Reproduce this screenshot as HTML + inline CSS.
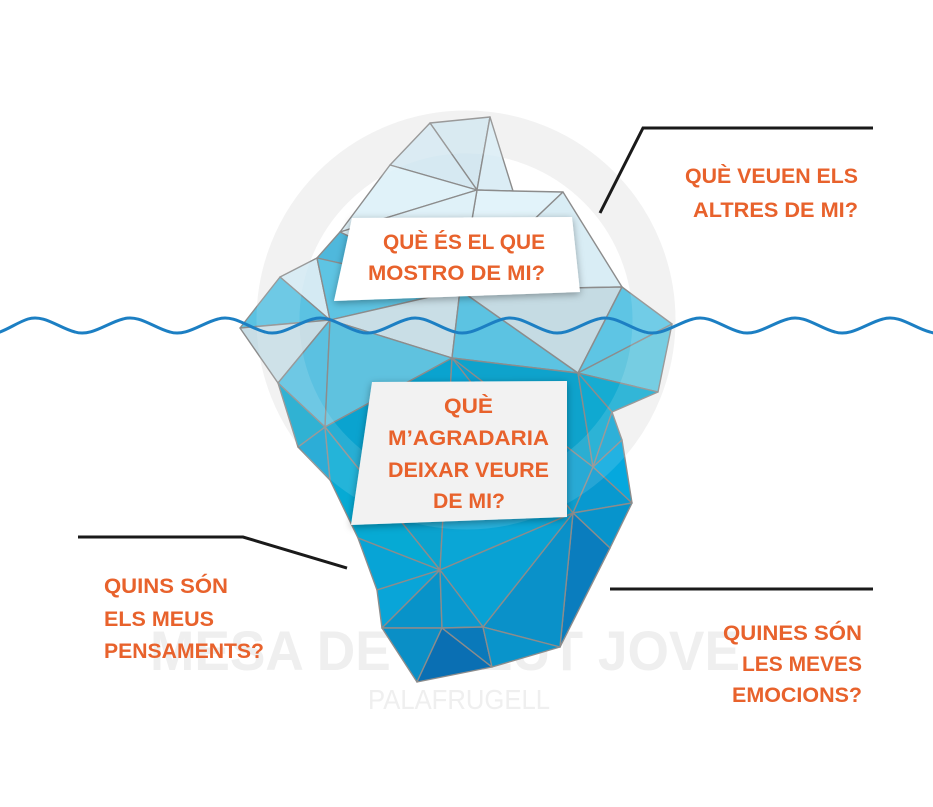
<!DOCTYPE html>
<html><head><meta charset="utf-8"><style>
html,body{margin:0;padding:0;background:#fff;}
svg{display:block;}
text{font-family:"Liberation Sans",sans-serif;font-weight:bold;fill:#e8622c;font-size:21px;}
</style></head><body>
<svg width="933" height="807" viewBox="0 0 933 807" xmlns="http://www.w3.org/2000/svg">
<defs>
<filter id="sh" x="-20%" y="-20%" width="140%" height="140%"><feDropShadow dx="0" dy="2" stdDeviation="4" flood-color="#000" flood-opacity="0.35"/></filter>
</defs>
<!-- watermark ring -->
<circle cx="466" cy="320" r="188" fill="none" stroke="#f1f1f1" stroke-width="43"/>
<text x="445" y="670" text-anchor="middle" textLength="590" lengthAdjust="spacingAndGlyphs" style="font-size:56px;fill:#efefef">MESA DE SALUT JOVE</text>
<text x="459" y="709" text-anchor="middle" textLength="182" lengthAdjust="spacingAndGlyphs" style="font-size:28px;font-weight:normal;fill:#efefef">PALAFRUGELL</text>
<!-- iceberg -->
<g stroke="#8c8c8c" stroke-width="1.4" stroke-linejoin="round">
<polygon points="430,123 490,117 477,190" fill="#d4e7f0"/>
<polygon points="490,117 513,191 477,190" fill="#dbedf5"/>
<polygon points="430,123 477,190 390,165" fill="#d6e9f2"/>
<polygon points="390,165 477,190 340,232" fill="#e0f2f9"/>
<polygon points="477,190 513,191 563,192 460,290" fill="#e2f3fa"/>
<polygon points="340,232 477,190 460,290" fill="#dff1f8"/>
<polygon points="563,192 622,287 460,290" fill="#d9edf5"/>
<polygon points="340,232 317,258 460,290" fill="#4fb8dc"/>
<polygon points="317,258 280,277 330,320" fill="#d4eaf3"/>
<polygon points="317,258 330,320 460,290" fill="#5ec4e3"/>
<polygon points="280,277 240,328 330,320" fill="#5bc2e2"/>
<polygon points="240,328 278,383 330,320" fill="#c8dde5"/>
<polygon points="330,320 452,358 460,290" fill="#c9dee6"/>
<polygon points="460,290 452,358 578,373" fill="#5cc3e2"/>
<polygon points="460,290 622,287 578,373" fill="#c5dbe3"/>
<polygon points="622,287 672,324 578,373" fill="#5ec5e4"/>
<polygon points="672,324 658,392 578,373" fill="#64c6de"/>
<polygon points="658,392 612,412 578,373" fill="#16acd2"/>
<polygon points="278,383 325,427 330,320" fill="#5bc1e1"/>
<polygon points="330,320 325,427 452,358" fill="#5fc2df"/>
<polygon points="452,358 578,373 593,467" fill="#0ea3cc"/>
<polygon points="578,373 612,412 593,467" fill="#0fa9d1"/>
<polygon points="612,412 622,440 593,467" fill="#12a5d3"/>
<polygon points="278,383 298,447 325,427" fill="#14a8cd"/>
<polygon points="298,447 330,480 325,427" fill="#0fa2d2"/>
<polygon points="325,427 452,358 440,570" fill="#0aa3cf"/>
<polygon points="452,358 593,467 573,513" fill="#0b9fd0"/>
<polygon points="452,358 573,513 440,570" fill="#0aa6d6"/>
<polygon points="325,427 330,480 358,538 440,570" fill="#06aad4"/>
<polygon points="622,440 632,503 593,467" fill="#05a8de"/>
<polygon points="593,467 632,503 573,513" fill="#0899d0"/>
<polygon points="632,503 610,548 573,513" fill="#0794cc"/>
<polygon points="610,548 560,647 573,513" fill="#0a7dbe"/>
<polygon points="573,513 560,647 483,627" fill="#0a91c9"/>
<polygon points="573,513 483,627 440,570" fill="#08a2d4"/>
<polygon points="358,538 377,590 440,570" fill="#07a4d6"/>
<polygon points="377,590 382,628 440,570" fill="#09a5d8"/>
<polygon points="382,628 442,628 440,570" fill="#0893c9"/>
<polygon points="440,570 442,628 483,627" fill="#0999cf"/>
<polygon points="382,628 417,682 442,628" fill="#0a8fc6"/>
<polygon points="442,628 417,682 492,667" fill="#0a6fb3"/>
<polygon points="442,628 492,667 483,627" fill="#0a79ba"/>
<polygon points="483,627 492,667 560,647" fill="#0994cb"/>
</g>
<circle cx="466" cy="320" r="188" fill="none" stroke="#fff" stroke-opacity="0.12" stroke-width="43"/>
<!-- water -->
<path d="M-20,337 Q4,337 28,319 Q52,301 76,319 Q100,337 124,319" fill="none" stroke="none"/>
<path id="wave" fill="none" stroke="#1c7fc3" stroke-width="3" d="M-20,332 C-4,340 12,324 28,319 C44,314 59,328 75,332 C91,337 107,323 123,319 C139,314 154,328 170,332 C186,337 202,323 218,319 C234,314 249,328 265,332 C281,337 297,323 313,319 C329,314 344,328 360,332 C376,337 392,323 408,319 C424,314 439,328 455,332 C471,337 487,323 503,319 C519,314 534,328 550,332 C566,337 582,323 598,319 C614,314 629,328 645,332 C661,337 677,323 693,319 C709,314 724,328 740,332 C756,337 772,323 788,319 C804,314 819,328 835,332 C851,337 867,323 883,319 C899,314 914,328 930,332 C946,337 950,330 960,326"/>
<!-- boxes -->
<polygon points="352,218 572,217 580,292 334,301" fill="#fff" filter="url(#sh)"/>
<polygon points="372,382 567,381 567,517 351,525" fill="#f2f2f2" filter="url(#sh)"/>
<text x="383" y="249" textLength="162" lengthAdjust="spacingAndGlyphs">QUÈ ÉS EL QUE</text>
<text x="368" y="280" textLength="177" lengthAdjust="spacingAndGlyphs">MOSTRO DE MI?</text>
<text x="444" y="413" textLength="49" lengthAdjust="spacingAndGlyphs">QUÈ</text>
<text x="388" y="445" textLength="161" lengthAdjust="spacingAndGlyphs">M’AGRADARIA</text>
<text x="388" y="477" textLength="161" lengthAdjust="spacingAndGlyphs">DEIXAR VEURE</text>
<text x="433" y="508" textLength="72" lengthAdjust="spacingAndGlyphs">DE MI?</text>
<!-- leader lines -->
<g stroke="#1a1a1a" stroke-width="3" fill="none">
<polyline points="600,213 643,128 873,128"/>
<polyline points="78,537 243,537 347,568"/>
<line x1="610" y1="589" x2="873" y2="589"/>
</g>
<text x="685" y="183" textLength="173" lengthAdjust="spacingAndGlyphs">QUÈ VEUEN ELS</text>
<text x="693" y="217" textLength="165" lengthAdjust="spacingAndGlyphs">ALTRES DE MI?</text>
<text x="104" y="593" textLength="124" lengthAdjust="spacingAndGlyphs">QUINS SÓN</text>
<text x="104" y="626" textLength="110" lengthAdjust="spacingAndGlyphs">ELS MEUS</text>
<text x="104" y="658" textLength="160" lengthAdjust="spacingAndGlyphs">PENSAMENTS?</text>
<text x="723" y="640" textLength="139" lengthAdjust="spacingAndGlyphs">QUINES SÓN</text>
<text x="742" y="671" textLength="120" lengthAdjust="spacingAndGlyphs">LES MEVES</text>
<text x="732" y="702" textLength="130" lengthAdjust="spacingAndGlyphs">EMOCIONS?</text>
</svg>
</body></html>
